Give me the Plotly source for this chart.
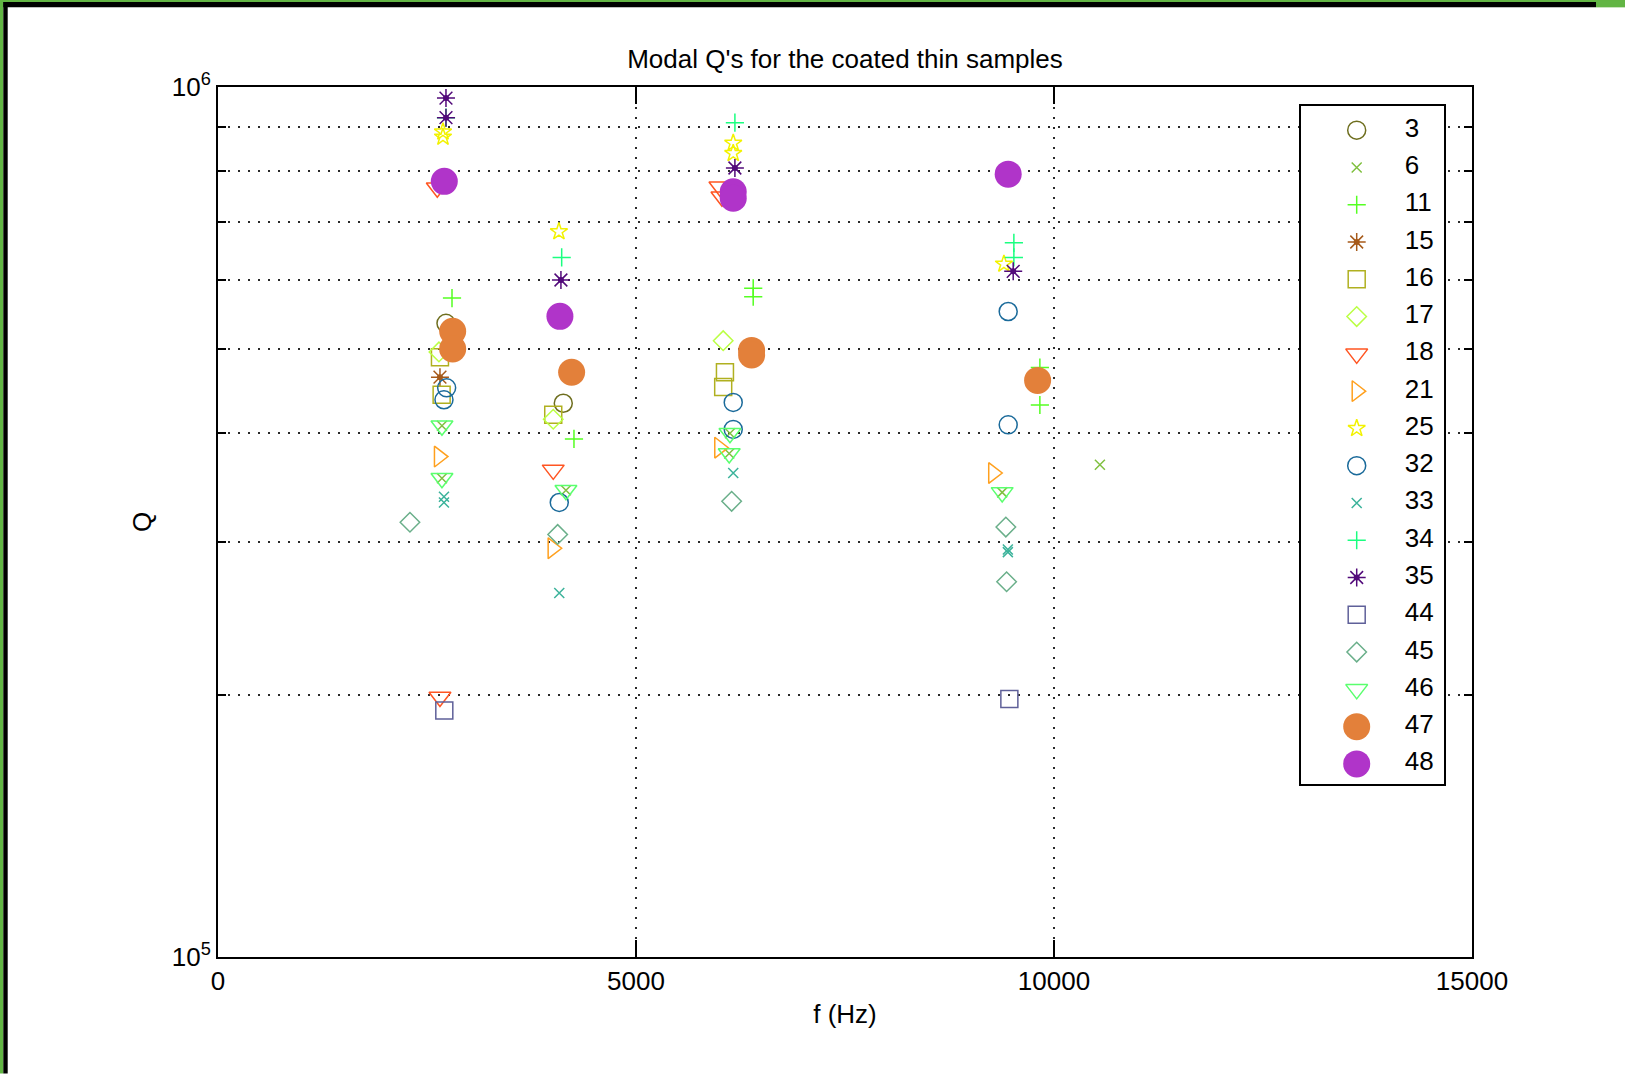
import plotly.graph_objects as go

# Modal frequencies f (Hz) and quality factors Q for each coated thin sample
f_s3 = [2727, 4130]
q_s3 = [5.35e5, 4.33e5]
f_s6 = [2679, 2679, 4162, 6124, 6115, 9380, 10549]
q_s6 = [4.08e5, 3.55e5, 3.44e5, 4.00e5, 3.79e5, 3.42e5, 3.68e5]
f_s11 = [2799, 4258, 6402, 6402, 9831, 9831]
q_s11 = [5.72e5, 3.94e5, 5.87e5, 5.74e5, 4.76e5, 4.31e5]
f_s15 = [2655]
q_s15 = [4.64e5]
f_s16 = [2655, 2675, 4010, 6064, 6043]
q_s16 = [4.89e5, 4.43e5, 4.20e5, 4.70e5, 4.52e5]
f_s17 = [2643, 4010, 6043]
q_s17 = [4.96e5, 4.15e5, 5.11e5]
f_s18 = [2623, 2655, 4010, 6004, 6028]
q_s18 = [7.66e5, 1.99e5, 3.63e5, 7.68e5, 7.48e5]
f_s21 = [2643, 4003, 5996, 9273]
q_s21 = [3.76e5, 2.95e5, 3.85e5, 3.60e5]
f_s25 = [2691, 2691, 4078, 6163, 6163, 9401]
q_s25 = [8.88e5, 8.76e5, 6.82e5, 8.62e5, 8.39e5, 6.26e5]
f_s32 = [2735, 2703, 4082, 6163, 6163, 9452, 9452]
q_s32 = [4.51e5, 4.37e5, 3.33e5, 4.34e5, 4.04e5, 5.52e5, 4.09e5]
f_s33 = [2703, 2703, 4082, 6163, 9448, 9448]
q_s33 = [3.38e5, 3.33e5, 2.62e5, 3.60e5, 2.94e5, 2.92e5]
f_s34 = [2727, 4111, 6183, 9520, 9520]
q_s34 = [9.22e5, 6.37e5, 9.10e5, 6.62e5, 6.37e5]
f_s35 = [2727, 2727, 4102, 6183, 9512]
q_s35 = [9.71e5, 9.22e5, 6.00e5, 8.07e5, 6.14e5]
f_s44 = [2707, 9466]
q_s44 = [1.92e5, 1.98e5]
f_s45 = [2296, 4063, 6144, 9424, 9433]
q_s45 = [3.16e5, 3.06e5, 3.34e5, 3.12e5, 2.70e5]
f_s46 = [2679, 2679, 4162, 6124, 6115, 9380]
q_s46 = [4.08e5, 3.55e5, 3.44e5, 4.00e5, 3.79e5, 3.42e5]
f_s47 = [2807, 2807, 4230, 6383, 6383, 9804]
q_s47 = [5.24e5, 5.00e5, 4.70e5, 4.98e5, 4.92e5, 4.60e5]
f_s48 = [2707, 4090, 6163, 6163, 9452]
q_s48 = [7.79e5, 5.45e5, 7.58e5, 7.45e5, 7.94e5]

sample_labels = ["3", "6", "11", "15", "16", "17", "18", "21", "25",
                 "32", "33", "34", "35", "44", "45", "46", "47", "48"]
sample_f = [f_s3, f_s6, f_s11, f_s15, f_s16, f_s17, f_s18, f_s21, f_s25,
            f_s32, f_s33, f_s34, f_s35, f_s44, f_s45, f_s46, f_s47, f_s48]
sample_q = [q_s3, q_s6, q_s11, q_s15, q_s16, q_s17, q_s18, q_s21, q_s25,
            q_s32, q_s33, q_s34, q_s35, q_s44, q_s45, q_s46, q_s47, q_s48]

x_ticks = [0, 5000, 10000, 15000]
y_major = [1e5, 1e6]
y_major_text = ["10<sup>5</sup>", "10<sup>6</sup>"]
y_minor = [2e5, 3e5, 4e5, 5e5, 6e5, 7e5, 8e5, 9e5]

# marker style per sample: (symbol, colour, size)
STYLE = {
    "3": ("circle-open", "#6e6e1e", 18),
    "6": ("x-thin-open", "#80c040", 10),
    "11": ("cross-thin-open", "#55ff22", 13),
    "15": ("asterisk-open", "#a65a1a", 15),
    "16": ("square-open", "#b0b020", 17),
    "17": ("diamond-open", "#bbff44", 15),
    "18": ("triangle-down-open", "#ff5522", 19),
    "21": ("triangle-right-open", "#ffa01e", 18),
    "25": ("star-open", "#f2f200", 13),
    "32": ("circle-open", "#1a6a9a", 18),
    "33": ("x-thin-open", "#3cb39b", 10),
    "34": ("cross-thin-open", "#1aff80", 13),
    "35": ("asterisk-open", "#520a7a", 15),
    "44": ("square-open", "#5f6099", 17),
    "45": ("diamond-open", "#6aaf8a", 15),
    "46": ("triangle-down-open", "#5aff6e", 19),
    "47": ("circle", "#e3803a", 27),
    "48": ("circle", "#b034c9", 27),
}

FONT = "Liberation Sans, Arial, Helvetica, sans-serif"
FS = 26
W, H = 1625, 1074
PL, PR, PT, PB = 218, 1472, 87, 957.5   # plot area in pixels


def px_x(px):
    return (px - PL) / (PR - PL)


def px_y(py):
    return (PB - py) / (PB - PT)


def marker_for(label):
    sym, col, size = STYLE[label]
    filled = not sym.endswith("-open")
    return dict(symbol=sym, size=size, color=col,
                line=dict(color=col, width=0 if filled else 1.5))


def centre_dot(label):
    return dict(symbol="circle", size=6, color=STYLE[label][1])


fig = go.Figure()

for label, fx, qy in zip(sample_labels, sample_f, sample_q):
    fig.add_trace(go.Scatter(x=fx, y=qy, mode="markers", name=label,
                             marker=marker_for(label), showlegend=False,
                             xaxis="x", yaxis="y"))
    if STYLE[label][0].startswith("asterisk"):
        fig.add_trace(go.Scatter(x=fx, y=qy, mode="markers", showlegend=False,
                                 hoverinfo="skip", marker=centre_dot(label),
                                 xaxis="x", yaxis="y"))

# legend panel drawn as an inset axes, one row per sample
LEG_L, LEG_R, LEG_T, LEG_B = 1300.7, 1444.3, 105.7, 784.6
ROW = 37.3
FIRST = 24.5      # first row centre below the panel top, px
n = len(sample_labels)
rows = [-i for i in range(n)]
for i, label in enumerate(sample_labels):
    fig.add_trace(go.Scatter(x=[56], y=[rows[i]], mode="markers",
                             marker=marker_for(label), showlegend=False,
                             hoverinfo="skip", xaxis="x2", yaxis="y2"))
    if STYLE[label][0].startswith("asterisk"):
        fig.add_trace(go.Scatter(x=[56], y=[rows[i]], mode="markers",
                                 showlegend=False, hoverinfo="skip",
                                 marker=centre_dot(label), xaxis="x2", yaxis="y2"))
fig.add_trace(go.Scatter(x=[104] * n, y=rows, mode="text",
                         text=sample_labels, textposition="middle right",
                         textfont=dict(family=FONT, size=FS, color="black"),
                         showlegend=False, hoverinfo="skip",
                         xaxis="x2", yaxis="y2"))

grid = dict(showgrid=True, gridcolor="#2a2a2a", gridwidth=2, griddash="2px,8px")
axis_common = dict(showline=True, linecolor="black", linewidth=2, mirror="ticks",
                   ticks="inside", tickcolor="black", tickwidth=2, zeroline=False,
                   tickfont=dict(family=FONT, size=FS, color="black"))

leg_top = FIRST / ROW
leg_bottom = -(LEG_B - LEG_T - FIRST) / ROW
fig.update_layout(
    width=W, height=H,
    margin=dict(l=PL, r=W - PR, t=PT, b=H - PB, pad=0),
    paper_bgcolor="white", plot_bgcolor="white",
    font=dict(family=FONT, size=FS, color="black"),
    title=dict(text="Modal Q's for the coated thin samples",
               font=dict(family=FONT, size=FS, color="black"),
               x=0.5, xref="paper", xanchor="center",
               y=1 - 59 / H, yref="container", yanchor="middle"),
    xaxis=dict(domain=[0, 1], range=[0, 15000], tickvals=x_ticks,
               ticktext=[str(v) for v in x_ticks], ticklen=17,
               title=dict(text="f (Hz)", standoff=10,
                          font=dict(family=FONT, size=FS, color="black")),
               automargin=False, **grid, **axis_common),
    yaxis=dict(domain=[0, 1], type="log", range=[5, 6], tickvals=y_major,
               ticktext=y_major_text, ticklen=17, showgrid=False,
               minor=dict(tickmode="array", tickvals=y_minor, ticks="inside",
                          ticklen=8, tickwidth=2, tickcolor="black", **grid),
               title=dict(text="Q", standoff=13,
                          font=dict(family=FONT, size=FS, color="black")),
               automargin=False, **axis_common),
    xaxis2=dict(domain=[px_x(LEG_L), px_x(LEG_R)], anchor="y2",
                range=[0, LEG_R - LEG_L],
                showline=True, mirror=True, linecolor="black", linewidth=2,
                showgrid=False, zeroline=False, showticklabels=False, ticks="",
                fixedrange=True),
    yaxis2=dict(domain=[px_y(LEG_B), px_y(LEG_T)], anchor="x2",
                range=[leg_bottom, leg_top],
                showline=True, mirror=True, linecolor="black", linewidth=2,
                showgrid=False, zeroline=False, showticklabels=False, ticks="",
                fixedrange=True),
)

# window frame: green edge with a black inner rule on the left and top
frame = [
    ("#62b544", 0, 0, 3.3, H),
    ("#62b544", 0, 0, W, 2),
    ("black", 3.3, 2, 7.7, H),
    ("black", 3.3, 2, 1596, 7.3),
    ("#62b544", 1596, 0, W, 7.3),
]
for col, x0, y0, x1, y1 in frame:
    fig.add_shape(type="rect", xref="paper", yref="paper",
                  x0=px_x(x0), x1=px_x(x1), y0=px_y(y1), y1=px_y(y0),
                  fillcolor=col, line=dict(width=0), layer="above")

fig.write_html("out.html")
